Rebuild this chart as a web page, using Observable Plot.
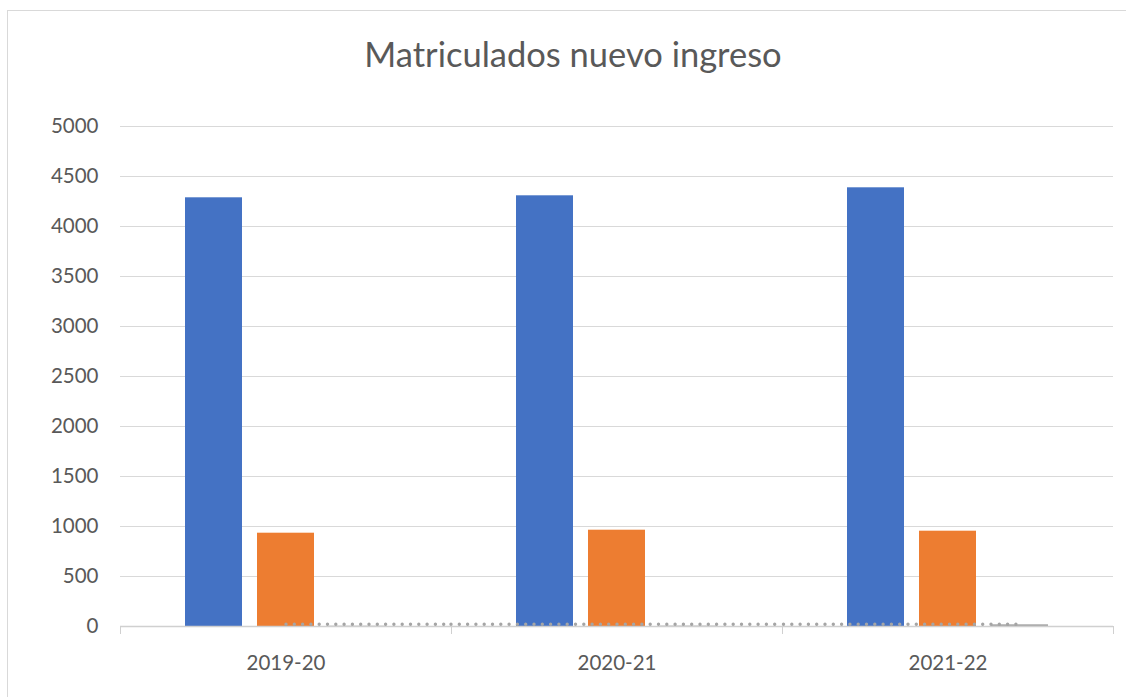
<!DOCTYPE html>
<html>
<head>
<meta charset="utf-8">
<script src="https://cdn.jsdelivr.net/npm/d3@7"></script>
<script src="https://cdn.jsdelivr.net/npm/@observablehq/plot@0.6"></script>
<style>
  html, body { margin: 0; padding: 0; background: #fff; }
  #wrap { position: relative; width: 1126px; height: 697px; overflow: hidden; font-family: Lato, "Open Sans", sans-serif; }
  #border { position: absolute; left: 7px; top: 10px; right: -2px; bottom: -2px; border-left: 1px solid #d9d9d9; border-top: 1px solid #d9d9d9; }
  #title { position: absolute; left: 10px; width: 1126px; top: 32px; text-align: center; font-size: 34.5px; color: #595959; line-height: 44px; }
  #chart { position: absolute; left: 0; top: 0; }
</style>
</head>
<body>
<div id="wrap">
  <div id="border"></div>
  <div id="chart"></div>
  <div id="title">Matriculados nuevo ingreso</div>
</div>
<script>
const years = ["2019-20", "2020-21", "2021-22"];
const seriesNames = ["A", "B", "C"];
const seriesA = [4287, 4307, 4387];
const seriesB = [933, 963, 953];
const seriesC = [3, 4, 17];
const lineValues = [22, 22, 22];
const yTicks = [0, 500, 1000, 1500, 2000, 2500, 3000, 3500, 4000, 4500, 5000];
const colors = ["#4472c4", "#ed7d31", "#a5a5a5"];

const rows = years.flatMap((y, i) => [
  {year: y, serie: "A", value: seriesA[i]},
  {year: y, serie: "B", value: seriesB[i]},
  {year: y, serie: "C", value: seriesC[i]}
]);

// band geometry within each year facet (331px wide): step 73, bar 58, outer gap 63.5
const halfBar = 29;
const outerGap = 63.5;
const dotStyle = {stroke: "#a5a5a5", strokeWidth: 3.4, strokeLinecap: "round", strokeDasharray: "0,8.3"};

const chart = Plot.plot({
  width: 1126,
  height: 697,
  marginTop: 126,
  marginBottom: 71,
  marginLeft: 120,
  marginRight: 13,
  style: {fontFamily: "Lato, 'Open Sans', sans-serif", background: "transparent", overflow: "visible"},
  fx: {domain: years, padding: 0},
  x: {domain: seriesNames, paddingInner: 0.2055, paddingOuter: 0.87, axis: null},
  y: {domain: [0, 5000], axis: null},
  color: {domain: seriesNames, range: colors},
  marks: [
    Plot.gridY(yTicks, {stroke: "#d9d9d9", strokeOpacity: 1, strokeWidth: 1}),
    Plot.barY(rows, {fx: "year", x: "serie", y: "value", fill: "serie"}),
    Plot.ruleY([0], {stroke: "#d0d0d0", strokeWidth: 1.3}),
    Plot.frame({anchor: "left", stroke: "#d0d0d0", insetTop: 500, insetBottom: -7}),
    Plot.frame({anchor: "right", stroke: "#d0d0d0", insetTop: 500, insetBottom: -7}),
    Plot.ruleY([{year: years[0], v: lineValues[0]}], {fx: "year", y: "v", x1: () => "B", x2: () => "C", insetLeft: halfBar, insetRight: -outerGap, ...dotStyle}),
    Plot.ruleY([{year: years[1], v: lineValues[1]}], {fx: "year", y: "v", ...dotStyle}),
    Plot.ruleY([{year: years[2], v: lineValues[2]}], {fx: "year", y: "v", x1: () => "A", x2: () => "C", insetLeft: -outerGap, insetRight: halfBar, ...dotStyle}),
    Plot.axisY(yTicks, {anchor: "left", tickSize: 0, tickPadding: 22, fontSize: 20.5, color: "#595959", label: null, tickFormat: d => String(d)}),
    Plot.axisFx({anchor: "bottom", tickSize: 0, tickPadding: 29, fontSize: 20.5, color: "#595959", label: null})
  ]
});
document.getElementById("chart").appendChild(chart);
</script>
</body>
</html>
